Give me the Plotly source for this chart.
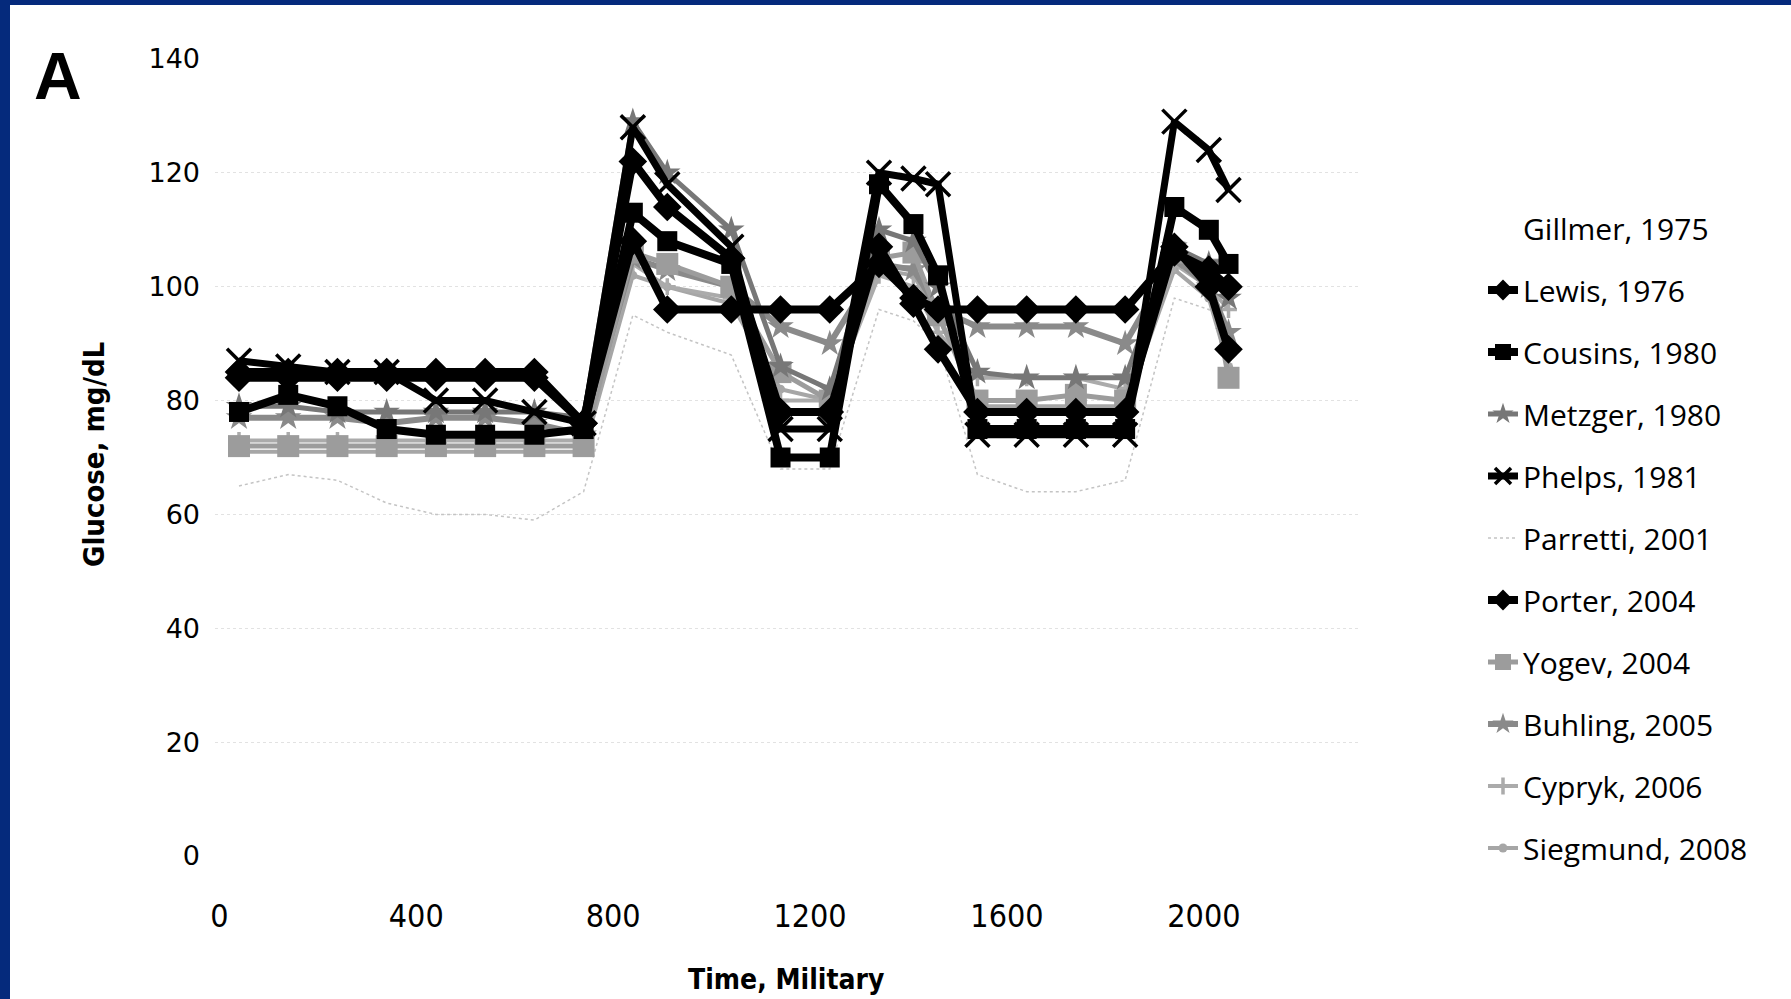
import plotly.graph_objects as go

# Clock times (military) at which glucose was sampled
times = [40, 140, 240, 340, 440, 540, 640, 740, 840, 910, 1040, 1140, 1240,
         1340, 1410, 1460, 1540, 1640, 1740, 1840, 1940, 2010, 2050]

# Mean glucose (mg/dL) per study
gillmer_1975 = [74, 75, 75, 74, 73, 73, 73, 73, 100, 98, 95, 80, 80, 100, 98, 94, 80, 80, 80, 80, 100, 97, 94]
lewis_1976 = [85, 85, 85, 85, 85, 85, 85, 76, 122, 114, 105, 78, 78, 107, 97, 89, 78, 78, 78, 78, 107, 100, 89]
cousins_1980 = [78, 81, 79, 75, 74, 74, 74, 75, 113, 108, 104, 70, 70, 118, 111, 102, 75, 75, 75, 75, 114, 110, 104]
metzger_1980 = [79, 79, 78, 78, 78, 78, 78, 77, 129, 120, 110, 86, 82, 110, 108, 100, 85, 84, 84, 84, 107, 104, 98]
phelps_1981 = [87, 86, 85, 85, 80, 80, 78, 76, 128, 118, 107, 75, 75, 120, 119, 118, 74, 74, 74, 74, 129, 124, 117]
parretti_2001 = [65, 67, 66, 62, 60, 60, 59, 64, 95, 92, 88, 68, 68, 96, 94, 90, 67, 64, 64, 66, 98, 96, 92]
porter_2004 = [84, 84, 84, 84, 84, 84, 84, 76, 108, 96, 96, 96, 96, 104, 98, 96, 96, 96, 96, 96, 106, 103, 100]
yogev_2004 = [72, 72, 72, 72, 72, 72, 72, 72, 106, 104, 100, 85, 80, 105, 106, 95, 80, 80, 81, 80, 106, 103, 84]
buhling_2005 = [77, 77, 77, 76, 77, 77, 76, 74, 105, 103, 100, 93, 90, 104, 103, 96, 93, 93, 93, 90, 105, 100, 92]
cypryk_2006 = [73, 73, 73, 73, 73, 73, 73, 73, 104, 100, 98, 80, 80, 102, 100, 92, 84, 84, 84, 82, 104, 100, 96]
siegmund_2008 = [71, 71, 71, 71, 71, 71, 71, 71, 102, 100, 97, 82, 80, 103, 102, 95, 79, 79, 79, 79, 103, 98, 86]

x_ticks = [0, 400, 800, 1200, 1600, 2000]
y_ticks = [0, 20, 40, 60, 80, 100, 120, 140]

W, H = 1791, 999
ML, MR, MT, MB = 215, 432, 59, 143
PW, PH = W - ML - MR, H - MT - MB


def px(xp):
    return (xp - ML) / PW


def py(yp):
    return (H - MB - yp) / PH


NARROW = "Liberation Sans Narrow, DejaVu Sans Condensed, Arial Narrow, sans-serif"

# (name, values, colour, width, dash, marker symbol, marker size, draw order, legend rank)
series = [
    ("Gillmer, 1975", gillmer_1975, "rgba(0,0,0,0)", 1, "solid", None, 0, 0, 1),
    ("Parretti, 2001", parretti_2001, "#c4c4c4", 1.5, "dot", None, 0, 1, 6),
    ("Siegmund, 2008", siegmund_2008, "#a6a6a6", 4, "solid", "circle", 9, 2, 11),
    ("Cypryk, 2006", cypryk_2006, "#ababab", 4, "solid", "cross-thin", 12, 3, 10),
    ("Buhling, 2005", buhling_2005, "#8a8a8a", 6, "solid", "star", 20, 4, 9),
    ("Yogev, 2004", yogev_2004, "#9c9c9c", 5, "solid", "square", 22, 5, 8),
    ("Metzger, 1980", metzger_1980, "#777777", 5, "solid", "star", 20, 6, 4),
    ("Porter, 2004", porter_2004, "#000000", 8, "solid", "diamond", 22, 7, 7),
    ("Lewis, 1976", lewis_1976, "#000000", 8, "solid", "diamond", 22, 8, 2),
    ("Cousins, 1980", cousins_1980, "#000000", 8, "solid", "square", 20, 9, 3),
    ("Phelps, 1981", phelps_1981, "#000000", 7, "solid", "x-thin", 24, 10, 5),
]

fig = go.Figure()
for name, vals, color, lw, dash, sym, msize, _, rank in sorted(series, key=lambda s: s[7]):
    if sym is None:
        mode = "lines"
        marker = None
    else:
        mode = "lines+markers"
        marker = dict(symbol=sym, size=msize, color=color,
                      line=dict(color=color, width=3.5 if "thin" in sym else 0))
    fig.add_trace(go.Scatter(
        x=times, y=vals, name=name, mode=mode,
        line=dict(color=color, width=lw, dash=dash),
        marker=marker,
        legendgroup=name, legendrank=rank,
    ))

fig.update_layout(
    width=W, height=H,
    margin=dict(l=ML, r=MR, t=MT, b=MB),
    paper_bgcolor="white", plot_bgcolor="white",
    showlegend=True,
    legend=dict(
        x=px(1483), xanchor="left", y=py(202), yanchor="top",
        font=dict(family="Open Sans, sans-serif", size=30, color="#000000"),
        tracegroupgap=20, bgcolor="rgba(0,0,0,0)",
    ),
    xaxis=dict(
        range=[(ML - 219.3) / 0.4923, (ML + PW - 219.3) / 0.4923],
        tickvals=x_ticks, ticktext=[str(v) for v in x_ticks],
        showgrid=False, zeroline=False, showline=False, ticks="",
        ticklabelstandoff=38,
        tickfont=dict(family=NARROW, size=32, color="#000000"),
    ),
    yaxis=dict(
        range=[0, 140], tickvals=y_ticks,
        showgrid=True, gridcolor="#e2e2e2", griddash="dot", gridwidth=1,
        zeroline=False, showline=False, ticks="",
        ticklabelstandoff=14,
        tickfont=dict(family="DejaVu Sans, Verdana, sans-serif", size=27, color="#000000"),
    ),
    annotations=[
        dict(text="A", x=px(58), y=py(76), xref="paper", yref="paper",
             xanchor="center", yanchor="middle", showarrow=False,
             font=dict(family="Liberation Sans, Arial, sans-serif", size=66, color="#000000", weight="bold")),
        dict(text="Glucose, mg/dL", x=px(94), y=py(455), xref="paper", yref="paper",
             xanchor="center", yanchor="middle", textangle=-90, showarrow=False,
             font=dict(family=NARROW, size=29, color="#000000", weight="bold")),
        dict(text="Time, Military", x=px(786), y=py(961), xref="paper", yref="paper",
             xanchor="center", yanchor="top", showarrow=False,
             font=dict(family=NARROW, size=28, color="#000000", weight="bold")),
    ],
    shapes=[
        dict(type="rect", xref="paper", yref="paper", layer="above",
             x0=px(0), x1=px(10), y0=py(H), y1=py(0),
             fillcolor="#052a7c", line=dict(width=0)),
        dict(type="rect", xref="paper", yref="paper", layer="above",
             x0=px(0), x1=px(W), y0=py(5), y1=py(0),
             fillcolor="#052a7c", line=dict(width=0)),
    ],
)

fig.write_html("out.html")
